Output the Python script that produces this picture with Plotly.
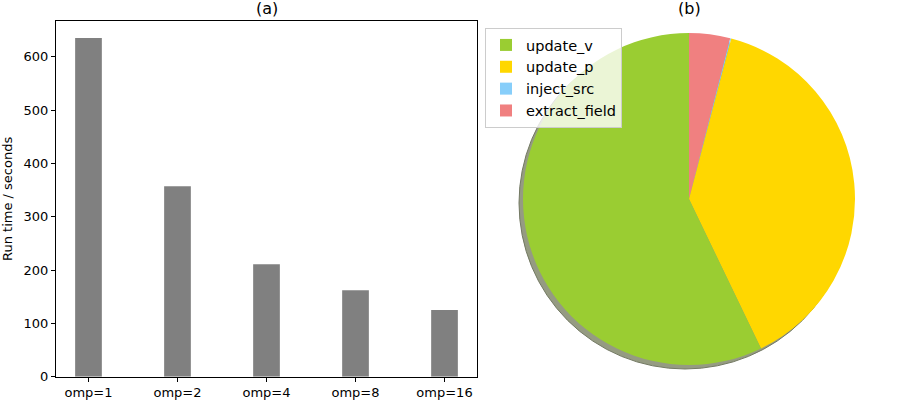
import plotly.graph_objects as go

categories = ["omp=1", "omp=2", "omp=4", "omp=8", "omp=16"]
run_times = [635, 357, 211, 162, 125]

kernels = ["update_v", "update_p", "inject_src", "extract_field"]
shares = [0.572, 0.388, 0.001, 0.040]
colors = ["#9ACD32", "#FFD700", "#87CEFA", "#F08080"]

W, H = 900, 400
FONT = "DejaVu Sans"

fig = go.Figure()

fig.add_trace(go.Bar(
    x=list(range(len(categories))), y=run_times, width=0.3,
    marker=dict(color="#808080", line=dict(width=0)),
    showlegend=False, xaxis="x", yaxis="y",
))

# pie geometry (pixels)
cx, cy, r = 689, 199, 166
sdx, sdy = -4, 4

def dom(cx_, cy_, r_):
    return dict(x=[(cx_ - r_) / W, (cx_ + r_) / W],
                y=[(H - cy_ - r_) / H, (H - cy_ + r_) / H])

# shadow
fig.add_trace(go.Pie(
    values=[1], labels=["shadow"], sort=False,
    marker=dict(colors=["#959b82"], line=dict(color="#737963", width=1)),
    textinfo="none", hoverinfo="skip", showlegend=False,
    domain=dom(cx + sdx, cy + sdy, r),
))

# wedges laid counterclockwise from 12 o'clock (drawn clockwise in reverse order)
fig.add_trace(go.Pie(
    values=shares[::-1], labels=kernels[::-1], sort=False, direction="clockwise",
    rotation=0,
    marker=dict(colors=colors[::-1], line=dict(width=0)),
    textinfo="none", showlegend=True,
    domain=dom(cx, cy, r),
))

fig.update_layout(
    width=W, height=H,
    margin=dict(l=0, r=0, t=0, b=0, autoexpand=False),
    paper_bgcolor="white", plot_bgcolor="white",
    font=dict(family=FONT, size=13, color="black"),
    xaxis=dict(
        domain=[56 / W, 477 / W], range=[-0.365, 4.365], automargin=False,
        tickmode="array", tickvals=list(range(len(categories))), ticktext=categories,
        showgrid=False, zeroline=False, showline=True, linecolor="black", linewidth=1,
        mirror=True, ticks="outside", ticklen=4, tickcolor="black",
        tickfont=dict(size=13),
    ),
    yaxis=dict(
        domain=[(H - 376.7) / H, (H - 21.3) / H], range=[0, 666.5], automargin=False,
        tickmode="array", tickvals=[0, 100, 200, 300, 400, 500, 600],
        showgrid=False, zeroline=False, showline=True, linecolor="black", linewidth=1,
        mirror=True, ticks="outside", ticklen=4, tickcolor="black",
        tickfont=dict(size=13),
    ),
    legend=dict(
        x=485 / W, y=(H - 28) / H, xanchor="left", yanchor="top",
        bgcolor="rgba(255,255,255,0.8)", bordercolor="#cccccc", borderwidth=1,
        font=dict(size=14.5), traceorder="reversed",
        itemsizing="constant", tracegroupgap=0,
    ),
    annotations=[
        dict(text="(a)", x=(56 + 477) / 2 / W, y=(H - 9) / H, xref="paper", yref="paper",
             xanchor="center", yanchor="middle", showarrow=False, font=dict(size=16)),
        dict(text="(b)", x=cx / W, y=(H - 9) / H, xref="paper", yref="paper",
             xanchor="center", yanchor="middle", showarrow=False, font=dict(size=16)),
        dict(text="Run time / seconds", x=7 / W, y=(H - 199) / H, xref="paper", yref="paper",
             xanchor="center", yanchor="middle", textangle=-90, showarrow=False,
             font=dict(size=13)),
    ],
)

fig.write_html(
    "out.html",
    config={"displayModeBar": False},
    post_script="document.body.style.margin='0';document.body.style.overflow='hidden';",
)
